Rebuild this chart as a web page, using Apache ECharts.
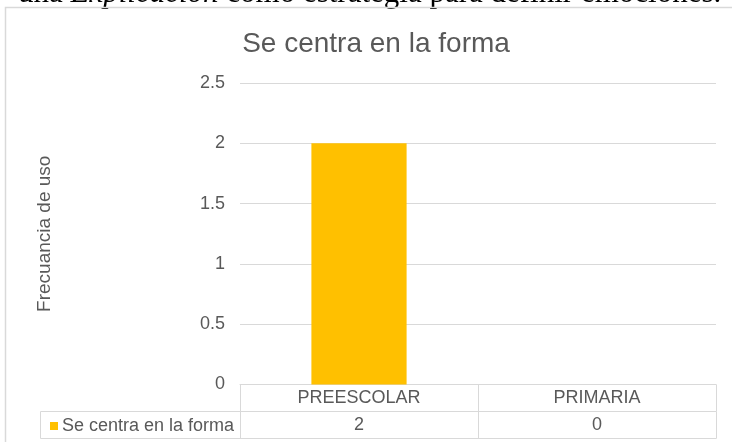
<!DOCTYPE html>
<html>
<head>
<meta charset="utf-8">
<script src="https://cdn.jsdelivr.net/npm/echarts@6/dist/echarts.min.js"></script>
<style>
  html, body { margin: 0; padding: 0; background: #fff; }
  #chart { width: 732px; height: 442px; }
</style>
</head>
<body>
<div id="chart"></div>
<script>
// datos
const categories = ["PREESCOLAR", "PRIMARIA"];
const seriesName = "Se centra en la forma";
const values = [2, 0];
const yTicks = [0, 0.5, 1, 1.5, 2, 2.5];

const textColor = "#595959";
const lineColor = "#d9d9d9";
const barColor = "#FFC000";
const font = "Liberation Sans, Arial, sans-serif";
const serif = "Liberation Serif, Times New Roman, serif";

const chart = echarts.init(document.getElementById("chart"));

chart.setOption({
  animation: false,
  title: {
    text: "Se centra en la forma",
    left: 371,
    top: 25,
    textAlign: "center",
    textStyle: { fontFamily: font, fontSize: 28, fontWeight: "normal", color: textColor }
  },
  legend: {
    data: [seriesName],
    left: 45,
    top: 412,
    icon: "rect",
    itemWidth: 8,
    itemHeight: 8,
    itemGap: 0,
    textStyle: { fontFamily: font, fontSize: 18, color: textColor, padding: [0, 0, 0, -1] }
  },
  grid: { left: 240, right: 16, top: 83, height: 301.5 },
  xAxis: [
    {
      type: "category",
      data: categories,
      axisLine: { lineStyle: { color: lineColor } },
      axisTick: { show: true, length: 27, lineStyle: { color: lineColor } },
      axisLabel: { fontFamily: font, fontSize: 18, color: textColor, margin: 5 }
    },
    {
      type: "category",
      data: categories,
      position: "bottom",
      offset: 27,
      axisLine: { show: true, lineStyle: { color: lineColor } },
      axisTick: { show: true, length: 27, lineStyle: { color: lineColor } },
      axisLabel: {
        fontFamily: font, fontSize: 18, color: textColor, margin: 5,
        formatter: (v, i) => String(values[i])
      }
    },
    {
      type: "category",
      data: categories,
      position: "bottom",
      offset: 54,
      axisLine: { show: true, lineStyle: { color: lineColor } },
      axisTick: { show: false },
      axisLabel: { show: false }
    }
  ],
  yAxis: {
    type: "value",
    min: yTicks[0],
    max: yTicks[yTicks.length - 1],
    interval: 0.5,
    name: "Frecuancia de uso",
    nameLocation: "middle",
    nameGap: 186,
    nameTextStyle: { fontFamily: font, fontSize: 19, color: textColor },
    axisLine: { show: false },
    axisTick: { show: false },
    axisLabel: { fontFamily: font, fontSize: 18, color: textColor, margin: 15 },
    splitLine: { lineStyle: { color: lineColor } }
  },
  series: [
    {
      name: seriesName,
      type: "bar",
      xAxisIndex: 0,
      data: values,
      barWidth: "40%",
      itemStyle: { color: barColor }
    }
  ],
  graphic: [
    {
      type: "text",
      left: 18,
      top: -22,
      style: {
        text: "una {i|Explicación} como estrategia para definir emociones.",
        fontFamily: serif,
        fontSize: 31,
        fill: "#000",
        rich: { i: { fontStyle: "italic", fontFamily: serif, fontSize: 31 } }
      }
    },
    {
      type: "rect",
      shape: { x: 5.5, y: 7.5, width: 760, height: 460 },
      style: { fill: "none", stroke: lineColor, lineWidth: 1.5 }
    },
    {
      type: "rect",
      shape: { x: 40.5, y: 411.5, width: 200, height: 27 },
      style: { fill: "none", stroke: lineColor, lineWidth: 1 }
    }
  ]
});
</script>
</body>
</html>
